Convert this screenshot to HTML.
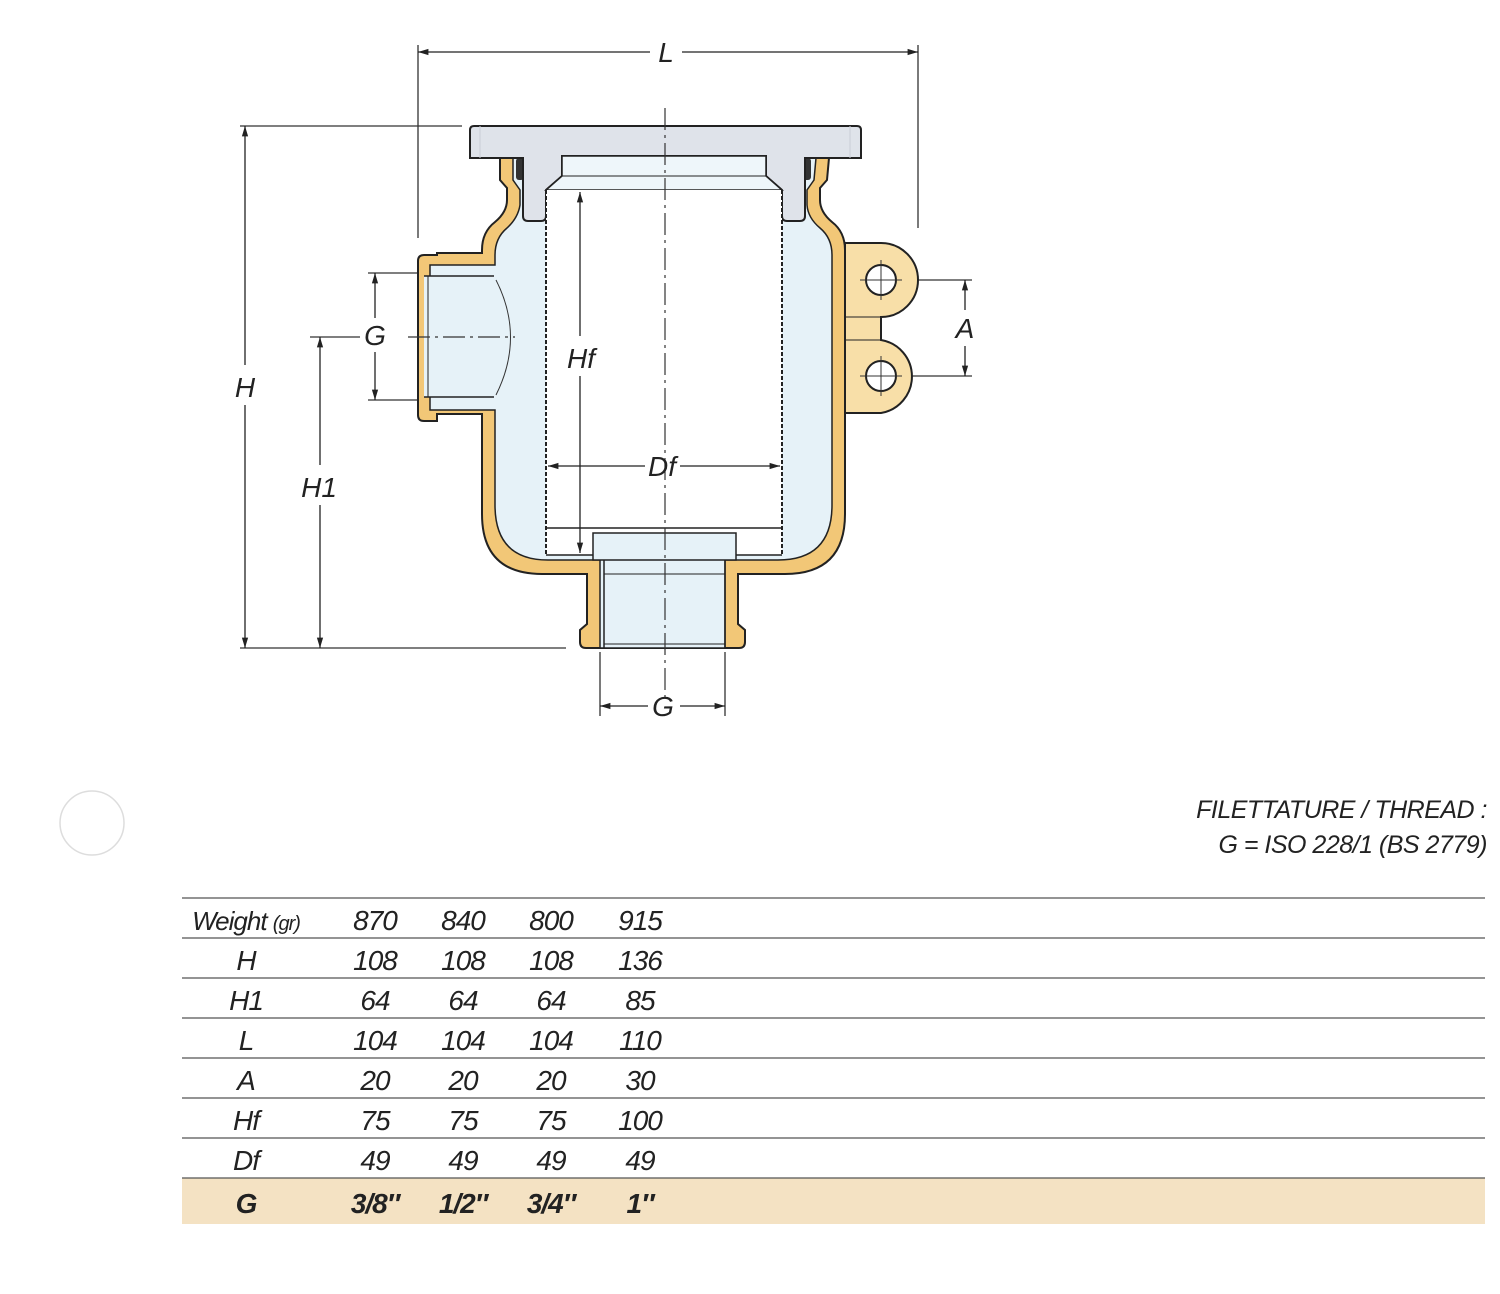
<!DOCTYPE html>
<html><head><meta charset="utf-8"><style>
html,body{margin:0;padding:0;background:#fff;}
svg{display:block;}
text{font-family:"Liberation Sans",sans-serif;font-style:italic;fill:#222;}
</style></head><body>
<svg width="1500" height="1294" viewBox="0 0 1500 1294" xmlns="http://www.w3.org/2000/svg">
<defs>
<marker id="ar" viewBox="0 0 10 10" refX="10" refY="5" markerWidth="8" markerHeight="8" orient="auto-start-reverse"><path d="M0,2 L10,5 L0,8 z" fill="#222"/></marker>
</defs>
<g stroke="#333" stroke-width="1.3" fill="none">
<!-- extension lines -->
<line x1="418" y1="45" x2="418" y2="238"/>
<line x1="918" y1="45" x2="918" y2="228"/>
<line x1="240" y1="126" x2="462" y2="126"/>
<line x1="240" y1="648" x2="566" y2="648"/>
<line x1="368" y1="273" x2="420" y2="273"/>
<line x1="368" y1="400" x2="420" y2="400"/>
<line x1="600" y1="652" x2="600" y2="716"/>
<line x1="725" y1="652" x2="725" y2="716"/>
<line x1="881" y1="280" x2="972" y2="280"/>
<line x1="881" y1="376" x2="972" y2="376"/>
</g>
<!-- body brass -->
<path d="M500,158 L500,180 L507,188 L507,200 Q507,212 495,222 Q482,232 482,250 L482,253 L437,253 L437,255 L424,255 Q418,255 418,261 L418,415 Q418,421 424,421 L437,421 L437,414 L482,414 L482,514 Q482,574 542,574 L587,574 L587,624 L580,630 L580,642 Q580,648 586,648 L739,648 Q745,648 745,642 L745,630 L738,624 L738,574 L785,574 Q845,574 845,514 L845,250 Q845,232 832,222 Q820,212 820,200 L820,188 L827,180 L829,158 Z" fill="#f2c777" stroke="#222" stroke-width="2"/>
<!-- inner cavity -->
<path d="M513,158 L513,180 L520,190 L520,205 Q518,218 507,228 Q495,238 495,255 L495,265 L430,265 L430,410 L495,410 L495,505 Q495,560 548,560 L600,560 L600,648 L725,648 L725,560 L778,560 Q832,560 832,505 L832,255 Q832,238 820,228 Q808,218 807,205 L807,190 L814,180 L816,158 Z" fill="#e6f2f8" stroke="#222" stroke-width="1.5"/>
<!-- inlet bore -->
<rect x="424" y="276" width="70" height="121" fill="#e6f2f8" stroke="none"/>
<line x1="424" y1="276" x2="494" y2="276" stroke="#222" stroke-width="1.5"/>
<line x1="424" y1="397" x2="494" y2="397" stroke="#222" stroke-width="1.5"/>
<line x1="428" y1="276" x2="428" y2="397" stroke="#222" stroke-width="1"/>
<path d="M496,280 Q525,337 496,395" fill="none" stroke="#333" stroke-width="1"/>
<!-- outlet bore lines -->
<line x1="604" y1="574" x2="725" y2="574" stroke="#222" stroke-width="1"/>
<line x1="604" y1="560" x2="604" y2="648" stroke="#222" stroke-width="1.5"/>
<line x1="725" y1="560" x2="725" y2="648" stroke="#222" stroke-width="1.5"/>
<line x1="604" y1="644" x2="725" y2="644" stroke="#222" stroke-width="1"/>
<!-- lugs -->
<path d="M845,243 L881,243 A37,37 0 0 1 881,317 L881,340 A37,37 0 0 1 881,413 L845,413 Z" fill="#f8dfa8" stroke="#222" stroke-width="2"/>
<line x1="845" y1="317" x2="881" y2="317" stroke="#222" stroke-width="1"/>
<line x1="845" y1="340" x2="881" y2="340" stroke="#222" stroke-width="1"/>
<circle cx="881" cy="280" r="15" fill="#fff" stroke="#222" stroke-width="2"/>
<circle cx="881" cy="376" r="15" fill="#fff" stroke="#222" stroke-width="2"/>
<g stroke="#333" stroke-width="1"><line x1="860" y1="280" x2="902" y2="280"/><line x1="881" y1="260" x2="881" y2="300"/><line x1="860" y1="376" x2="902" y2="376"/><line x1="881" y1="356" x2="881" y2="396"/></g>
<!-- seals -->
<rect x="516" y="158" width="8" height="22" rx="3" fill="#333"/>
<rect x="803" y="158" width="8" height="22" rx="3" fill="#333"/>
<!-- cap -->
<path d="M470,158 L470,130 Q470,126 474,126 L857,126 Q861,126 861,130 L861,158 L805,158 L805,216 Q805,221 800,221 L787,221 Q782,221 782,216 L782,190 L766,176 L766,156 L562,156 L562,176 L546,190 L546,216 Q546,221 541,221 L528,221 Q523,221 523,216 L523,158 Z" fill="#dfe3ea" stroke="#222" stroke-width="2"/>
<line x1="480" y1="126" x2="480" y2="158" stroke="#c9ced6" stroke-width="1"/>
<line x1="850" y1="126" x2="850" y2="158" stroke="#c9ced6" stroke-width="1"/>
<!-- filter -->
<path d="M562,156 L766,156 L766,176 L782,190 L546,190 L562,176 Z" fill="#eef6fa" stroke="#222" stroke-width="1.5"/>
<line x1="562" y1="176" x2="766" y2="176" stroke="#222" stroke-width="1"/>
<rect x="546" y="190" width="236" height="365" fill="#fff" stroke="none"/>
<line x1="546" y1="190" x2="546" y2="555" stroke="#222" stroke-width="2" stroke-dasharray="4,2"/>
<line x1="782" y1="190" x2="782" y2="555" stroke="#222" stroke-width="2" stroke-dasharray="4,2"/>
<line x1="546" y1="528" x2="782" y2="528" stroke="#222" stroke-width="1.5"/>
<rect x="593" y="533" width="143" height="27" fill="#e6f2f8" stroke="#222" stroke-width="1.5"/>
<line x1="546" y1="555" x2="593" y2="555" stroke="#222" stroke-width="1.5"/>
<line x1="736" y1="555" x2="782" y2="555" stroke="#222" stroke-width="1.5"/>
<!-- center lines -->
<line x1="665" y1="108" x2="665" y2="700" stroke="#333" stroke-width="1.2" stroke-dasharray="22,5,3,5"/>
<line x1="408" y1="337" x2="515" y2="337" stroke="#333" stroke-width="1.2" stroke-dasharray="22,5,3,5"/>
<line x1="310" y1="337" x2="360" y2="337" stroke="#333" stroke-width="1.2"/>
<!-- dimension lines -->
<g stroke="#222" stroke-width="1.3" fill="none">
<line x1="418" y1="52" x2="650" y2="52" marker-start="url(#ar)"/>
<line x1="682" y1="52" x2="918" y2="52" marker-end="url(#ar)"/>
<line x1="245" y1="126" x2="245" y2="365" marker-start="url(#ar)"/>
<line x1="245" y1="405" x2="245" y2="648" marker-end="url(#ar)"/>
<line x1="320" y1="337" x2="320" y2="465" marker-start="url(#ar)"/>
<line x1="320" y1="505" x2="320" y2="648" marker-end="url(#ar)"/>
<line x1="375" y1="273" x2="375" y2="318" marker-start="url(#ar)"/>
<line x1="375" y1="352" x2="375" y2="400" marker-end="url(#ar)"/>
<line x1="600" y1="706" x2="648" y2="706" marker-start="url(#ar)"/>
<line x1="680" y1="706" x2="725" y2="706" marker-end="url(#ar)"/>
<line x1="965" y1="280" x2="965" y2="310" marker-start="url(#ar)"/>
<line x1="965" y1="346" x2="965" y2="376" marker-end="url(#ar)"/>
<line x1="580" y1="192" x2="580" y2="336" marker-start="url(#ar)"/>
<line x1="580" y1="376" x2="580" y2="553" marker-end="url(#ar)"/>
<line x1="548" y1="466" x2="645" y2="466" marker-start="url(#ar)"/>
<line x1="680" y1="466" x2="780" y2="466" marker-end="url(#ar)"/>
</g>
<g font-size="28" text-anchor="middle">
<text x="666" y="62">L</text>
<text x="245" y="397">H</text>
<text x="319" y="497">H1</text>
<text x="375" y="345">G</text>
<text x="663" y="716">G</text>
<text x="965" y="338">A</text>
<text x="581" y="368">Hf</text>
<text x="662" y="476">Df</text>
</g>
<circle cx="92" cy="823" r="32" fill="none" stroke="#ddd" stroke-width="1.5"/>
<g font-size="25" text-anchor="end">
<text x="1487" y="818" letter-spacing="-0.5">FILETTATURE / THREAD :</text>
<text x="1487" y="853" letter-spacing="-0.5">G = ISO 228/1 (BS 2779)</text>
</g>
<!-- table -->
<rect x="182" y="1178" width="1303" height="46" fill="#f4e2c3"/>
<g stroke="#555" stroke-width="1.3">
<line x1="182" y1="898" x2="1485" y2="898"/><line x1="182" y1="938" x2="1485" y2="938"/>
<line x1="182" y1="978" x2="1485" y2="978"/><line x1="182" y1="1018" x2="1485" y2="1018"/>
<line x1="182" y1="1058" x2="1485" y2="1058"/><line x1="182" y1="1098" x2="1485" y2="1098"/>
<line x1="182" y1="1138" x2="1485" y2="1138"/><line x1="182" y1="1178" x2="1485" y2="1178"/>
</g>
<g font-size="28" text-anchor="middle" letter-spacing="-1">
<text x="246" y="930" font-size="26">Weight <tspan font-size="20">(gr)</tspan></text><text x="375" y="930">870</text><text x="463" y="930">840</text><text x="551" y="930">800</text><text x="640" y="930">915</text>
<text x="246" y="970">H</text><text x="375" y="970">108</text><text x="463" y="970">108</text><text x="551" y="970">108</text><text x="640" y="970">136</text>
<text x="246" y="1010">H1</text><text x="375" y="1010">64</text><text x="463" y="1010">64</text><text x="551" y="1010">64</text><text x="640" y="1010">85</text>
<text x="246" y="1050">L</text><text x="375" y="1050">104</text><text x="463" y="1050">104</text><text x="551" y="1050">104</text><text x="640" y="1050">110</text>
<text x="246" y="1090">A</text><text x="375" y="1090">20</text><text x="463" y="1090">20</text><text x="551" y="1090">20</text><text x="640" y="1090">30</text>
<text x="246" y="1130">Hf</text><text x="375" y="1130">75</text><text x="463" y="1130">75</text><text x="551" y="1130">75</text><text x="640" y="1130">100</text>
<text x="246" y="1170">Df</text><text x="375" y="1170">49</text><text x="463" y="1170">49</text><text x="551" y="1170">49</text><text x="640" y="1170">49</text>
<g font-weight="bold"><text x="246" y="1213">G</text><text x="375" y="1213">3/8″</text><text x="463" y="1213">1/2″</text><text x="551" y="1213">3/4″</text><text x="640" y="1213">1″</text></g>
</g>
</svg>
</body></html>
